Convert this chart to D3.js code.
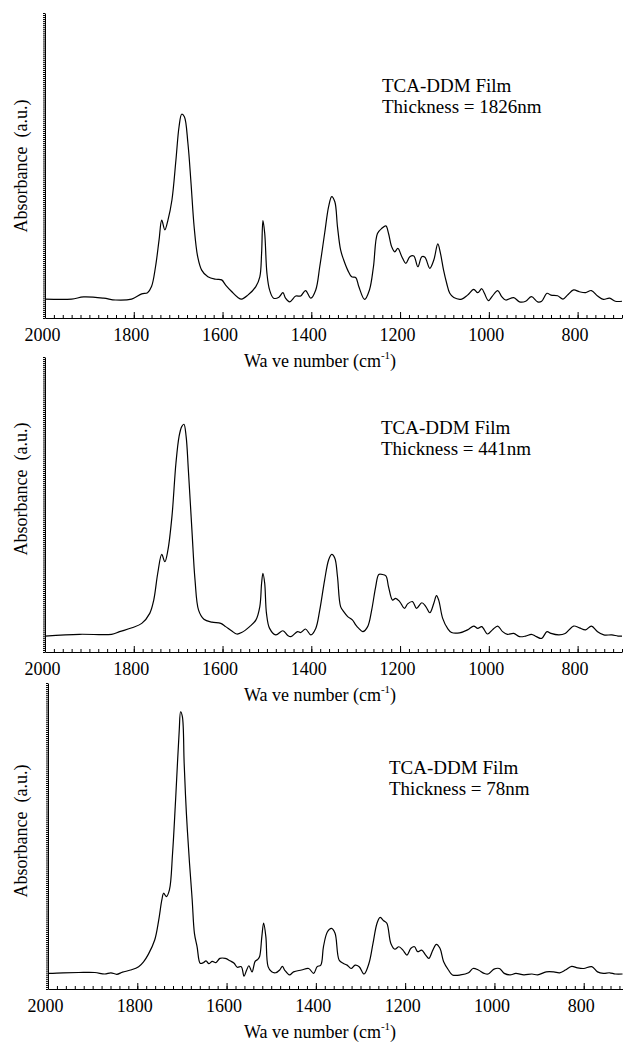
<!DOCTYPE html>
<html>
<head>
<meta charset="utf-8">
<script src="https://cdn.jsdelivr.net/npm/d3@7"></script>
<style>
  body { margin: 0; background: #fff; }
  svg text { font-family: 'Liberation Serif', 'Times New Roman', Times, serif !important; fill: #000; }
  .axis path, .axis line { stroke: #000; stroke-width: 1; }
</style>
</head>
<body>
<div id="chart"></div>
<script>
// spectra: [wave number, absorbance (a.u., 0..1 of the panel)]
var spec1826 = [
  [2000,0.062],[1940,0.062],[1913,0.069],[1868,0.065],[1841,0.059],[1805,0.062],[1782,0.079],
  [1769,0.083],[1760,0.103],[1751,0.168],[1743,0.256],[1737,0.321],[1730,0.289],[1723,0.321],
  [1714,0.387],[1705,0.518],[1698,0.627],[1692,0.668],[1686,0.660],[1678,0.573],[1671,0.442],
  [1664,0.299],[1656,0.201],[1647,0.157],[1633,0.135],[1615,0.127],[1602,0.125],[1593,0.108],
  [1579,0.086],[1566,0.068],[1557,0.062],[1543,0.075],[1525,0.103],[1516,0.135],[1512,0.212],
  [1509,0.319],[1505,0.278],[1500,0.147],[1494,0.092],[1485,0.065],[1473,0.068],[1464,0.083],
  [1458,0.065],[1449,0.053],[1435,0.072],[1424,0.072],[1413,0.090],[1401,0.065],[1390,0.092],
  [1381,0.168],[1370,0.277],[1361,0.365],[1354,0.398],[1347,0.381],[1341,0.299],[1334,0.223],
  [1327,0.190],[1318,0.157],[1309,0.135],[1300,0.133],[1293,0.103],[1280,0.061],[1269,0.092],
  [1260,0.168],[1251,0.277],[1241,0.294],[1232,0.302],[1226,0.277],[1219,0.234],[1212,0.217],
  [1205,0.228],[1196,0.201],[1187,0.179],[1178,0.201],[1169,0.203],[1160,0.168],[1151,0.201],
  [1144,0.199],[1133,0.163],[1124,0.190],[1115,0.243],[1109,0.212],[1102,0.157],[1095,0.114],
  [1088,0.081],[1079,0.067],[1061,0.062],[1048,0.075],[1034,0.094],[1025,0.083],[1016,0.096],
  [1010,0.081],[1001,0.057],[992,0.072],[980,0.090],[971,0.070],[962,0.059],[944,0.067],
  [931,0.053],[917,0.055],[904,0.070],[890,0.053],[881,0.055],[869,0.081],[860,0.075],
  [845,0.073],[833,0.062],[823,0.075],[809,0.092],[796,0.086],[782,0.083],[769,0.090],
  [755,0.072],[742,0.061],[728,0.065],[715,0.055],[700,0.055]
];

var spec441 = [
  [2000,0.054],[1922,0.060],[1850,0.060],[1832,0.069],[1804,0.082],[1782,0.097],[1764,0.131],
  [1755,0.176],[1746,0.267],[1737,0.331],[1730,0.306],[1723,0.346],[1714,0.459],[1705,0.640],
  [1698,0.730],[1692,0.764],[1687,0.772],[1682,0.730],[1677,0.617],[1669,0.414],[1662,0.244],
  [1654,0.142],[1642,0.111],[1624,0.101],[1604,0.097],[1593,0.086],[1579,0.071],[1568,0.061],
  [1557,0.066],[1539,0.086],[1525,0.108],[1516,0.154],[1512,0.233],[1509,0.267],[1505,0.233],
  [1501,0.131],[1494,0.080],[1480,0.058],[1464,0.072],[1453,0.056],[1446,0.052],[1431,0.069],
  [1424,0.066],[1413,0.078],[1401,0.058],[1390,0.080],[1381,0.142],[1370,0.244],[1361,0.312],
  [1354,0.331],[1347,0.318],[1341,0.255],[1334,0.154],[1327,0.137],[1318,0.120],[1307,0.108],
  [1300,0.092],[1293,0.080],[1284,0.069],[1273,0.086],[1264,0.142],[1255,0.221],[1248,0.263],
  [1241,0.263],[1232,0.258],[1226,0.221],[1217,0.176],[1210,0.182],[1201,0.171],[1190,0.148],
  [1183,0.163],[1172,0.171],[1163,0.148],[1151,0.167],[1142,0.154],[1133,0.133],[1124,0.165],
  [1118,0.191],[1113,0.176],[1104,0.114],[1093,0.080],[1084,0.066],[1066,0.065],[1048,0.075],
  [1034,0.088],[1025,0.080],[1016,0.086],[1003,0.061],[992,0.075],[980,0.088],[969,0.069],
  [958,0.060],[944,0.063],[931,0.052],[917,0.054],[904,0.060],[893,0.052],[881,0.046],
  [869,0.069],[860,0.063],[842,0.058],[828,0.063],[809,0.088],[796,0.082],[782,0.075],
  [769,0.088],[755,0.069],[741,0.058],[723,0.058],[709,0.054],[700,0.054]
];

var spec78 = [
  [2000,0.051],[1966,0.053],[1931,0.054],[1895,0.054],[1873,0.049],[1859,0.053],[1846,0.048],
  [1833,0.055],[1815,0.062],[1797,0.073],[1786,0.089],[1775,0.114],[1761,0.160],[1752,0.225],
  [1745,0.291],[1741,0.313],[1735,0.302],[1728,0.324],[1721,0.443],[1715,0.596],[1710,0.738],
  [1706,0.846],[1703,0.906],[1699,0.890],[1695,0.738],[1690,0.574],[1683,0.411],[1677,0.291],
  [1672,0.182],[1666,0.138],[1659,0.084],[1652,0.086],[1646,0.092],[1640,0.083],[1632,0.090],
  [1624,0.086],[1615,0.100],[1603,0.100],[1592,0.092],[1583,0.084],[1576,0.071],[1567,0.073],
  [1561,0.042],[1555,0.062],[1550,0.076],[1543,0.056],[1536,0.090],[1530,0.097],[1526,0.106],
  [1521,0.171],[1517,0.215],[1512,0.171],[1507,0.073],[1499,0.056],[1490,0.053],[1481,0.062],
  [1475,0.074],[1470,0.062],[1459,0.046],[1450,0.056],[1432,0.062],[1416,0.067],[1405,0.051],
  [1397,0.073],[1389,0.078],[1383,0.138],[1374,0.187],[1365,0.198],[1357,0.182],[1348,0.095],
  [1339,0.084],[1330,0.078],[1321,0.067],[1312,0.078],[1303,0.073],[1292,0.049],[1281,0.084],
  [1272,0.149],[1263,0.215],[1256,0.234],[1248,0.223],[1241,0.215],[1232,0.149],[1223,0.130],
  [1214,0.138],[1205,0.127],[1196,0.111],[1187,0.133],[1179,0.138],[1172,0.122],[1163,0.127],
  [1154,0.111],[1147,0.100],[1138,0.127],[1130,0.146],[1122,0.133],[1114,0.090],[1103,0.062],
  [1094,0.046],[1076,0.046],[1058,0.053],[1048,0.067],[1036,0.062],[1023,0.051],[1014,0.049],
  [1001,0.065],[989,0.067],[978,0.051],[965,0.046],[952,0.051],[934,0.046],[916,0.049],
  [903,0.046],[884,0.056],[867,0.056],[854,0.053],[841,0.062],[827,0.074],[814,0.069],
  [800,0.067],[782,0.073],[769,0.056],[756,0.051],[742,0.053],[729,0.049],[713,0.049]
];

var thicknesses = ["1826nm", "441nm", "78nm"];
var majorTicks = [2000, 1800, 1600, 1400, 1200, 1000, 800];

var width = 623, height = 1043;
var serif = "'Liberation Serif', 'Times New Roman', Times, serif";

var svg = d3.select("#chart")
    .append("svg")
    .attr("width", width)
    .attr("height", height)
    .style("font-family", serif);

// panel geometry (pixels)
var panels = [
    {data: spec1826, label: thicknesses[0], left: 45, right: 622, xEnd: 700, top: 13, bottom: 318, labelY: 166, noteX: 382, noteY: 92},
    {data: spec441, label: thicknesses[1], left: 45, right: 622, xEnd: 700, top: 357, bottom: 652, labelY: 489, noteX: 381, noteY: 434},
    {data: spec78, label: thicknesses[2], left: 48, right: 623, xEnd: 712, top: 683, bottom: 989, labelY: 831, noteX: 389, noteY: 774}
];

panels.forEach(function(p) {

    var x = d3.scaleLinear()
        .domain([2000, p.xEnd])
        .range([p.left, p.right]);

    var y = d3.scaleLinear()
        .domain([0, 1])
        .range([p.bottom, p.top]);

    var g = svg.append("g");

    // dense little ticks along the left axis
    g.append("g")
        .attr("class", "axis")
        .attr("transform", "translate(" + p.left + ",0)")
        .call(d3.axisLeft(y)
            .tickValues(d3.range(0, 1.0001, 1 / 150))
            .tickSizeInner(2)
            .tickSizeOuter(0)
            .tickFormat(""));

    // minor ticks every 20
    g.append("g")
        .attr("class", "axis")
        .attr("transform", "translate(0," + p.bottom + ")")
        .call(d3.axisBottom(x)
            .tickValues(d3.range(2000, p.xEnd - 1, -20))
            .tickSizeInner(-3)
            .tickSizeOuter(0)
            .tickFormat(""));

    // major ticks + labels
    var major = g.append("g")
        .attr("class", "axis")
        .attr("transform", "translate(0," + p.bottom + ")")
        .call(d3.axisBottom(x)
            .tickValues(majorTicks)
            .tickSizeInner(-6)
            .tickSizeOuter(0)
            .tickPadding(10)
            .tickFormat(d3.format("d")));
    major.attr("font-family", serif).attr("font-size", 18);
    major.select(".domain").remove();
    major.selectAll("text").attr("x", -3);

    var line = d3.line()
        .x(function(d) { return x(d[0]); })
        .y(function(d) { return y(d[1]); })
        .curve(d3.curveCatmullRom.alpha(0.5));

    g.append("path")
        .datum(p.data)
        .attr("d", line)
        .attr("fill", "none")
        .attr("stroke", "#000")
        .attr("stroke-width", 1.2);

    // x axis title
    var title = g.append("text")
        .attr("x", 320)
        .attr("y", p.bottom + 49)
        .attr("text-anchor", "middle")
        .style("font-size", "18px");
    title.append("tspan").text("Wa ve number (cm");
    title.append("tspan").attr("dy", -8).style("font-size", "11px").text("-1");
    title.append("tspan").attr("dy", 8).text(")");

    // y axis title
    g.append("text")
        .attr("transform", "translate(27," + p.labelY + ") rotate(-90)")
        .attr("text-anchor", "middle")
        .style("font-size", "18px")
        .style("white-space", "pre")
        .text("Absorbance  (a.u.)");

    // annotation
    g.append("text")
        .attr("x", p.noteX)
        .attr("y", p.noteY)
        .style("font-size", "19px")
        .text("TCA-DDM Film");
    g.append("text")
        .attr("x", p.noteX)
        .attr("y", p.noteY + 21)
        .style("font-size", "19px")
        .text("Thickness = " + p.label);
});
</script>
</body>
</html>
